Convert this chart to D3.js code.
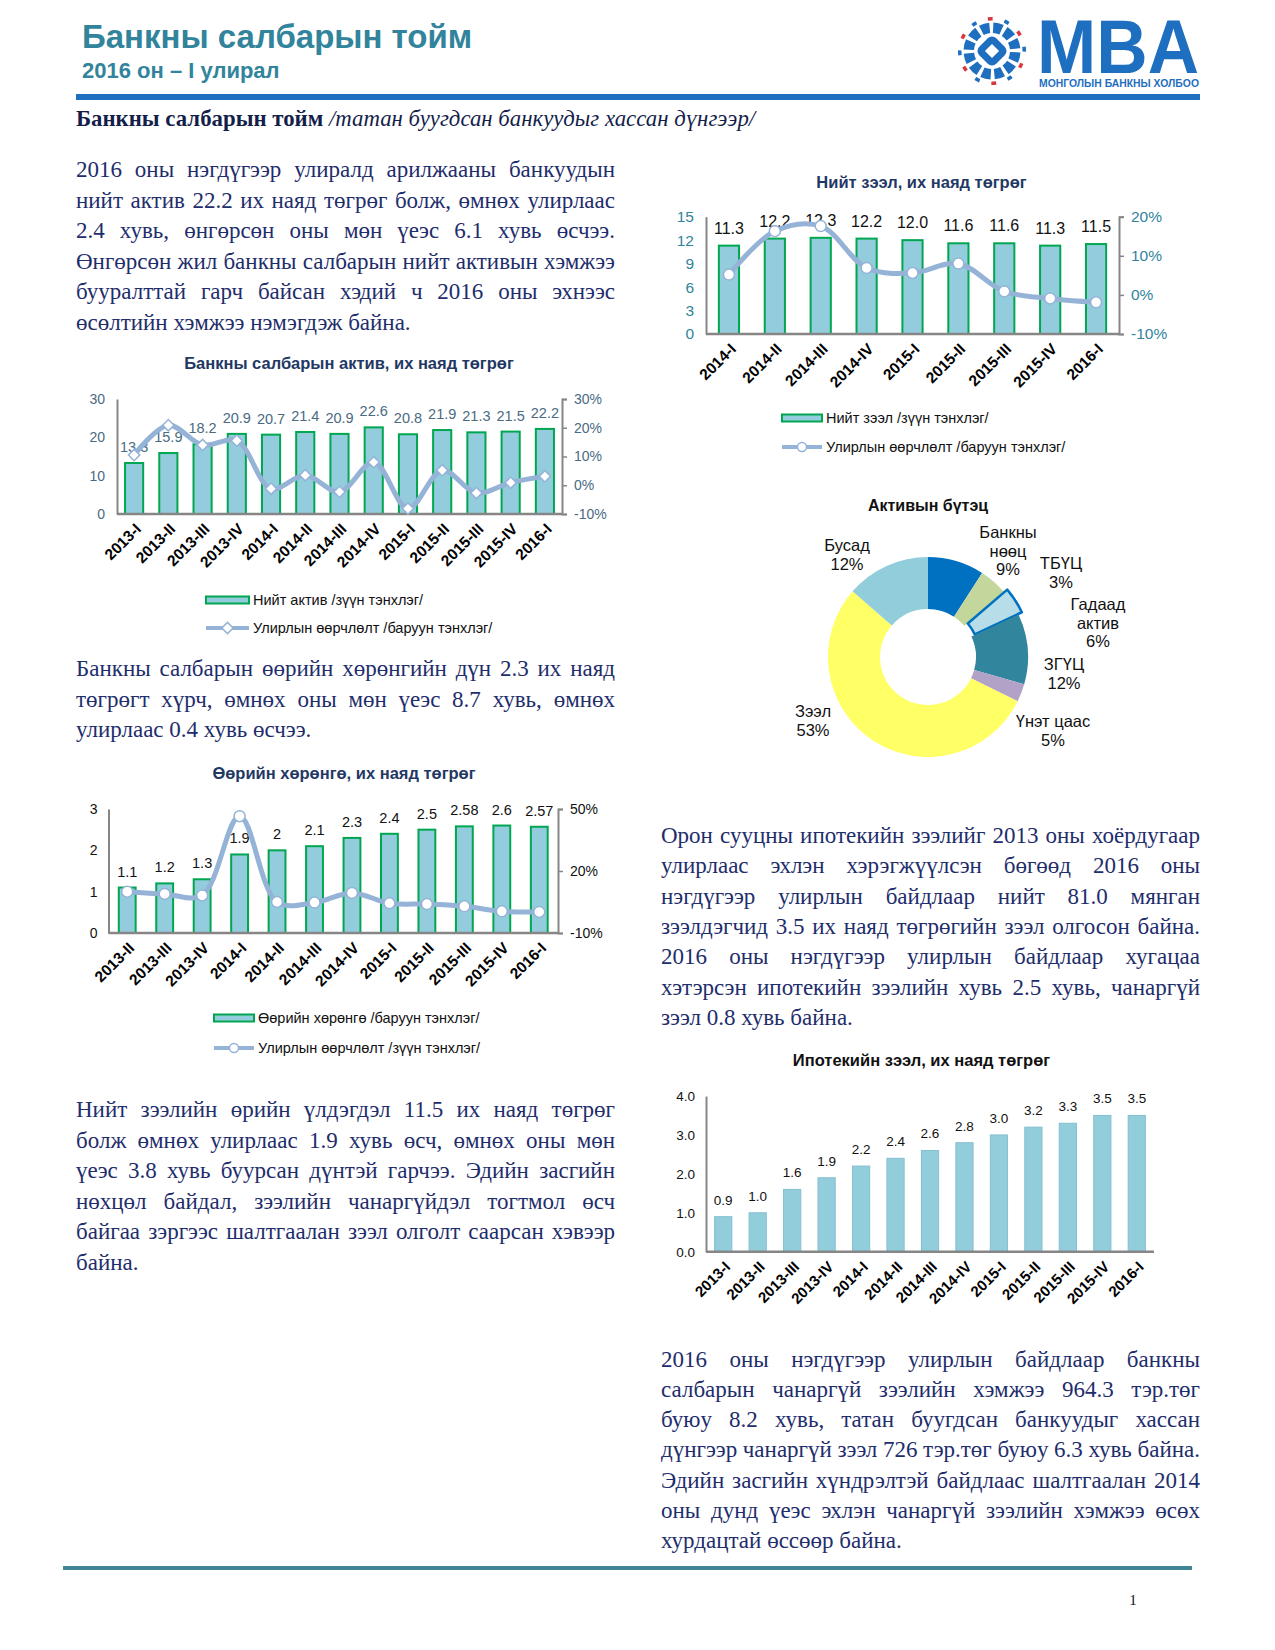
<!DOCTYPE html>
<html><head><meta charset="utf-8">
<script src="https://cdn.jsdelivr.net/npm/d3@7"></script>
<style>
body{margin:0;background:#fff;}
svg{display:block;}
.para{font-family:"Liberation Serif","Times New Roman",serif;font-size:23px;fill:#1e2d6b;}
.sans{font-family:"Liberation Sans",Arial,sans-serif;}
</style></head><body>
<svg id="pg" width="1275" height="1650"></svg>
<script>
// ---------- DATA ----------
const assetCats = ['2013-I','2013-II','2013-III','2013-IV','2014-I','2014-II','2014-III','2014-IV','2015-I','2015-II','2015-III','2015-IV','2016-I'];
const assetVals = [13.3,15.9,18.2,20.9,20.7,21.4,20.9,22.6,20.8,21.9,21.3,21.5,22.2];
const assetChg  = [10.5,20.9,14.0,15.5,-1.2,3.5,-2.3,8.0,-8.1,5.2,-2.7,0.9,3.1];
const assetLTicks = [0,10,20,30];
const assetRTicks = [-10,0,10,20,30];

const equityCats = ['2013-II','2013-III','2013-IV','2014-I','2014-II','2014-III','2014-IV','2015-I','2015-II','2015-III','2015-IV','2016-I'];
const equityVals = [1.1,1.2,1.3,1.9,2,2.1,2.3,2.4,2.5,2.58,2.6,2.57];
const equityChg  = [10.0,8.9,8.2,46.5,5.0,4.7,9.4,4.4,4.0,2.9,0.5,0.2];
const equityLTicks = [0,1,2,3];
const equityRTicks = [-10,20,50];

const loanCats = ['2014-I','2014-II','2014-III','2014-IV','2015-I','2015-II','2015-III','2015-IV','2016-I'];
const loanVals = [11.3,12.2,12.3,12.2,12.0,11.6,11.6,11.3,11.5];
const loanChg  = [5.2,16.3,17.6,6.9,5.6,8.0,0.9,-0.9,-1.9];
const loanLTicks = [0,3,6,9,12,15];
const loanRTicks = [-10,0,10,20];

const mortCats = ['2013-I','2013-II','2013-III','2013-IV','2014-I','2014-II','2014-III','2014-IV','2015-I','2015-II','2015-III','2015-IV','2016-I'];
const mortVals = [0.9,1.0,1.6,1.9,2.2,2.4,2.6,2.8,3.0,3.2,3.3,3.5,3.5];
const mortTicks = [0,1,2,3,4];

const pieNames  = ['Банкны нөөц','ТБҮЦ','Гадаад актив','ЗГҮЦ','Үнэт цаас','Зээл','Бусад'];
const pieShares = [9.1,4.6,4.3,11.4,2.9,54.1,13.6];
const pieLabelLines = [['Банкны','нөөц','9%'],['ТБҮЦ','3%'],['Гадаад','актив','6%'],['ЗГҮЦ','12%'],['Үнэт цаас','5%'],['Зээл','53%'],['Бусад','12%']];
const pieColors = ['#0070C0','#C3D69B','#B7DEE8','#31859C','#B3A2C7','#FFFF66','#92CDDC'];

const para1 = ['2016 оны нэгдүгээр улиралд арилжааны банкуудын','нийт актив 22.2 их наяд төгрөг болж, өмнөх улирлаас','2.4 хувь, өнгөрсөн оны мөн үеэс 6.1 хувь өсчээ.','Өнгөрсөн жил банкны салбарын нийт активын хэмжээ','бууралттай гарч байсан хэдий ч 2016 оны эхнээс','өсөлтийн хэмжээ нэмэгдэж байна.'];
const para2 = ['Банкны салбарын өөрийн хөрөнгийн дүн 2.3 их наяд','төгрөгт хүрч, өмнөх оны мөн үеэс 8.7 хувь, өмнөх','улирлаас 0.4 хувь өсчээ.'];
const para3 = ['Нийт зээлийн өрийн үлдэгдэл 11.5 их наяд төгрөг','болж өмнөх улирлаас 1.9 хувь өсч, өмнөх оны мөн','үеэс 3.8 хувь буурсан дүнтэй гарчээ. Эдийн засгийн','нөхцөл байдал, зээлийн чанаргүйдэл тогтмол өсч','байгаа зэргээс шалтгаалан зээл олголт саарсан хэвээр','байна.'];
const para4 = ['Орон сууцны ипотекийн зээлийг 2013 оны хоёрдугаар','улирлаас эхлэн хэрэгжүүлсэн бөгөөд 2016 оны','нэгдүгээр улирлын байдлаар нийт 81.0 мянган','зээлдэгчид 3.5 их наяд төгрөгийн зээл олгосон байна.','2016 оны нэгдүгээр улирлын байдлаар хугацаа','хэтэрсэн ипотекийн зээлийн хувь 2.5 хувь, чанаргүй','зээл 0.8 хувь байна.'];
const para5 = ['2016 оны нэгдүгээр улирлын байдлаар банкны','салбарын  чанаргүй зээлийн хэмжээ 964.3 тэр.төг','буюу 8.2 хувь, татан буугдсан банкуудыг хассан','дүнгээр чанаргүй зээл 726 тэр.төг буюу 6.3 хувь байна.','Эдийн засгийн хүндрэлтэй байдлаас шалтгаалан 2014','оны дунд үеэс эхлэн чанаргүй зээлийн хэмжээ өсөх','хурдацтай өссөөр байна.'];

// ---------- PAGE ----------
const svg = d3.select('#pg');
const TEAL = '#31849B', NAVY = '#1F3864', LINE = '#95B3D7', AXIS = '#868686';

svg.append('text').attr('class','sans').attr('x',82).attr('y',48).style('font-size','33px').style('font-weight','bold').attr('fill',TEAL).text('Банкны салбарын тойм');
svg.append('text').attr('class','sans').attr('x',82).attr('y',78).style('font-size','22px').style('font-weight','bold').attr('fill',TEAL).text('2016 он – I улирал');
svg.append('rect').attr('x',76).attr('y',94).attr('width',1124).attr('height',6).attr('fill','#1F6FC0');

// logo
const logo = svg.append('g').attr('transform','translate(992,51)');
const segArc = d3.arc();
for (let i=0;i<12;i++){
  const a = i*Math.PI/6;
  logo.append('path').attr('d',segArc({innerRadius:18,outerRadius:28.5,startAngle:a+0.05,endAngle:a+Math.PI/6-0.1,cornerRadius:1.5})).attr('fill','#1F6FC0');
  logo.append('path').attr('d',segArc({innerRadius:30.5,outerRadius:34,startAngle:a+Math.PI/6-0.13,endAngle:a+Math.PI/6+0.02})).attr('fill', i%2? '#D9363E':'#1F6FC0');
}
logo.append('rect').attr('x',-12).attr('y',-12).attr('width',24).attr('height',24).attr('rx',6).attr('transform','rotate(45)').attr('fill','#1F6FC0');
logo.append('rect').attr('x',-5).attr('y',-5).attr('width',10).attr('height',10).attr('transform','rotate(45)').attr('fill','#fff');
svg.append('text').attr('class','sans').attr('x',1037).attr('y',73).style('font-size','76px').style('font-weight','bold').attr('fill','#1F6FC0').attr('textLength',162).attr('lengthAdjust','spacingAndGlyphs').text('MBA');
svg.append('text').attr('class','sans').attr('x',1039).attr('y',87).style('font-size','10px').style('font-weight','bold').attr('fill','#1F6FC0').attr('textLength',160).attr('lengthAdjust','spacingAndGlyphs').text('МОНГОЛЫН БАНКНЫ ХОЛБОО');

// section heading
const sh = svg.append('text').attr('class','para').attr('x',76).attr('y',126).style('fill','#141e4a').style('font-size','22.8px');
sh.append('tspan').style('font-weight','bold').text('Банкны салбарын тойм ');
sh.append('tspan').style('font-style','italic').text('/татан буугдсан банкуудыг хассан дүнгээр/');

// justified paragraph helper (word spacing justification, last line left)
function paragraph(lines, x, y0, w, lh){
  const minGap = 4;
  lines.forEach((ln,i)=>{
    const y = y0 + i*lh;
    const t = svg.append('text').attr('class','para').attr('y',y);
    if (i === lines.length-1){ t.attr('x',x).text(ln); return; }
    const words = ln.trim().split(/\s+/);
    const widths = words.map(wd=>{ const s = svg.append('text').attr('class','para').text(wd); const l = s.node().getComputedTextLength(); s.remove(); return l; });
    const sum = d3.sum(widths);
    let gap = (w - sum)/(words.length-1), sx = 1;
    if (gap < minGap){ gap = minGap; sx = w/(sum + minGap*(words.length-1)); }
    t.attr('transform',`translate(${x},0) scale(${sx},1)`);
    let cx = 0;
    words.forEach((wd,j)=>{ t.append('tspan').attr('x',cx).text(wd); cx += widths[j] + gap; });
  });
}
paragraph(para1, 76, 177, 539, 30.5);
paragraph(para2, 76, 676, 539, 30.5);
paragraph(para3, 76, 1117, 539, 30.5);
paragraph(para4, 661, 843, 539, 30.3);
paragraph(para5, 661, 1366.5, 539, 30.3);

// ---------- CHART HELPER ----------
function chart(o){
  const g = svg.append('g');
  const x = d3.scaleBand().domain(o.cats).range([o.x0,o.x1]).paddingInner(o.pad).paddingOuter(o.pad/2);
  const yL = d3.scaleLinear().domain(o.lDom).range([o.yB,o.yT]);
  const cx = c => x(c) + x.bandwidth()/2;
  g.append('text').attr('class','sans').attr('x',o.tx).attr('y',o.ty).attr('text-anchor','middle')
    .style('font-size',o.tfs+'px').style('font-weight','bold').attr('fill',o.tcol).text(o.title);
  // bars
  g.selectAll('rect.bar').data(o.vals).join('rect').attr('class','bar')
    .attr('x',(d,i)=>x(o.cats[i])).attr('y',d=>yL(d)).attr('width',x.bandwidth()).attr('height',d=>yL(0)-yL(d))
    .attr('fill',o.barFill).attr('stroke',o.barStroke).attr('stroke-width',o.barSW);
  // left axis
  const ax = g.append('g').attr('transform',`translate(${o.x0},0)`)
    .call(d3.axisLeft(yL).tickValues(o.lTicks).tickSize(0).tickPadding(o.lPad).tickFormat(o.lFmt));
  ax.select('.domain').attr('stroke',AXIS).attr('stroke-width',2);
  ax.selectAll('text').attr('class','sans').style('font-size',o.tickFs+'px').attr('fill',o.tickCol);
  // x axis line
  g.append('line').attr('x1',o.x0).attr('x2',o.x1).attr('y1',o.yB).attr('y2',o.yB).attr('stroke',AXIS).attr('stroke-width',2.5);
  // category labels
  g.selectAll('text.cat').data(o.cats).join('text').attr('class','cat sans')
    .attr('transform',c=>`translate(${cx(c)+o.catDx},${o.yB+o.catDy}) rotate(-45)`)
    .attr('text-anchor','end').style('font-size',o.catFs+'px').style('font-weight','bold').attr('fill','#000').text(c=>c);
  // data labels
  g.selectAll('text.dl').data(o.vals).join('text').attr('class','dl sans')
    .attr('x',(d,i)=>cx(o.cats[i])).attr('y',d=>yL(d)-o.dlOff).attr('text-anchor','middle')
    .style('font-size',o.dlFs+'px').attr('fill',o.dlCol).text(o.dlFmt);
  // right axis + line
  if (o.chg){
    const yR = d3.scaleLinear().domain(o.rDom).range([o.yB,o.yT]);
    const ar = g.append('g').attr('transform',`translate(${o.x1},0)`)
      .call(d3.axisRight(yR).tickValues(o.rTicks).tickSize(5).tickPadding(o.rPad).tickFormat(d=>d+'%'));
    ar.select('.domain').attr('stroke',AXIS).attr('stroke-width',2);
    ar.selectAll('line').attr('stroke',AXIS).attr('stroke-width',1.5);
    ar.selectAll('text').attr('class','sans').style('font-size',o.tickFs+'px').attr('fill',o.tickCol);
    const line = d3.line().x((d,i)=>cx(o.cats[i])).y(d=>yR(d)).curve(d3.curveCatmullRom.alpha(0.5));
    g.append('path').attr('d',line(o.chg)).attr('fill','none').attr('stroke',LINE).attr('stroke-width',5).attr('stroke-linejoin','round');
    o.chg.forEach((d,i)=>{
      if (o.marker==='diamond')
        g.append('rect').attr('x',-4).attr('y',-4).attr('width',8).attr('height',8)
          .attr('transform',`translate(${cx(o.cats[i])},${yR(d)}) rotate(45)`).attr('fill','#fff').attr('stroke',LINE).attr('stroke-width',1.5);
      else
        g.append('circle').attr('cx',cx(o.cats[i])).attr('cy',yR(d)).attr('r',5.5).attr('fill','#fff').attr('stroke',LINE).attr('stroke-width',1.5);
    });
  }
  // legend
  if (o.leg){
    const L = o.leg;
    g.append('rect').attr('x',L.x).attr('y',L.y1-3.5).attr('width',L.w).attr('height',7).attr('fill','#93CDDD').attr('stroke','#00A650').attr('stroke-width',2);
    g.append('text').attr('class','sans').attr('x',L.x+L.w+4).attr('y',L.y1+5).style('font-size','14.5px').attr('fill','#111').text(L.t1);
    g.append('line').attr('x1',L.x).attr('x2',L.x+L.w).attr('y1',L.y2).attr('y2',L.y2).attr('stroke',LINE).attr('stroke-width',4);
    if (o.marker==='diamond')
      g.append('rect').attr('x',-4).attr('y',-4).attr('width',8).attr('height',8).attr('transform',`translate(${L.x+L.w/2},${L.y2}) rotate(45)`).attr('fill','#fff').attr('stroke',LINE).attr('stroke-width',1.5);
    else
      g.append('circle').attr('cx',L.x+L.w/2).attr('cy',L.y2).attr('r',4.5).attr('fill','#fff').attr('stroke',LINE).attr('stroke-width',1.5);
    g.append('text').attr('class','sans').attr('x',L.x+L.w+4).attr('y',L.y2+5).style('font-size','14.5px').attr('fill','#111').text(L.t2);
  }
}

// Chart 1: assets
chart({cats:assetCats, vals:assetVals, chg:assetChg, x0:117, x1:562, pad:0.47, yB:514, yT:399,
  lDom:[0,30], lTicks:assetLTicks, lFmt:d=>d, lPad:12, rDom:[-10,30], rTicks:assetRTicks, rPad:7,
  title:'Банкны салбарын актив, их наяд төгрөг', tx:349, ty:369, tfs:16.5, tcol:NAVY,
  barFill:'#93CDDD', barStroke:'#00A650', barSW:2, tickFs:14, tickCol:'#4a6a82',
  dlFs:14.5, dlCol:'#4a6a82', dlOff:11, dlFmt:d=>d3.format('.1f')(d), catDx:8, catDy:16, catFs:15.5, marker:'diamond',
  leg:{x:206, w:43, y1:600, y2:628, t1:'Нийт актив /зүүн тэнхлэг/', t2:'Улирлын өөрчлөлт /баруун тэнхлэг/'}});

// Chart 2: equity
chart({cats:equityCats, vals:equityVals, chg:equityChg, x0:108.5, x1:558, pad:0.55, yB:933, yT:809,
  lDom:[0,3], lTicks:equityLTicks, lFmt:d=>d, lPad:11, rDom:[-10,50], rTicks:equityRTicks, rPad:7,
  title:'Өөрийн хөрөнгө, их наяд төгрөг', tx:344, ty:779, tfs:16.5, tcol:NAVY,
  barFill:'#93CDDD', barStroke:'#00A650', barSW:2, tickFs:14, tickCol:'#111',
  dlFs:14.5, dlCol:'#111', dlOff:11, dlFmt:d=>String(d), catDx:8, catDy:16, catFs:15.5, marker:'circle',
  leg:{x:214, w:40, y1:1018, y2:1048, t1:'Өөрийн хөрөнгө /баруун тэнхлэг/', t2:'Улирлын өөрчлөлт /зүүн тэнхлэг/'}});

// Chart 3: loans
chart({cats:loanCats, vals:loanVals, chg:loanChg, x0:706, x1:1119, pad:0.56, yB:334, yT:216.7,
  lDom:[0,15], lTicks:loanLTicks, lFmt:d=>d, lPad:12, rDom:[-10,20], rTicks:loanRTicks, rPad:7,
  title:'Нийт зээл, их наяд төгрөг', tx:921.5, ty:188, tfs:16.5, tcol:NAVY,
  barFill:'#93CDDD', barStroke:'#00A650', barSW:2, tickFs:15.5, tickCol:TEAL,
  dlFs:16, dlCol:'#111', dlOff:12, dlFmt:d=>d3.format('.1f')(d), catDx:8, catDy:16, catFs:15.5, marker:'circle',
  leg:{x:782, w:40, y1:418, y2:447, t1:'Нийт зээл /зүүн тэнхлэг/', t2:'Улирлын өөрчлөлт /баруун тэнхлэг/'}});

// Chart 4: mortgage
chart({cats:mortCats, vals:mortVals, x0:706, x1:1154, pad:0.5, yB:1251.7, yT:1096,
  lDom:[0,4], lTicks:mortTicks, lFmt:d3.format('.1f'), lPad:11,
  title:'Ипотекийн зээл, их наяд төгрөг', tx:921.5, ty:1066, tfs:16.5, tcol:'#111',
  barFill:'#92CDDC', barStroke:'#86BFD0', barSW:1, tickFs:13.5, tickCol:'#111',
  dlFs:13.5, dlCol:'#111', dlOff:12, dlFmt:d=>d3.format('.1f')(d), catDx:8, catDy:16, catFs:15});

// Donut
const pcx = 928, pcy = 657;
svg.append('text').attr('class','sans').attr('x',928).attr('y',511).attr('text-anchor','middle').style('font-size','16px').style('font-weight','bold').attr('fill','#111').text('Активын бүтэц');
const pie = d3.pie().sort(null).value(d=>d)(pieShares);
const arc = d3.arc().innerRadius(48).outerRadius(100);
const pg = svg.append('g').attr('transform',`translate(${pcx},${pcy})`);
pie.forEach((p,i)=>{
  const path = pg.append('path').attr('d',arc(p)).attr('fill',pieColors[i]);
  if (i===2){
    const m = (p.startAngle+p.endAngle)/2;
    path.attr('transform',`translate(${4*Math.sin(m)},${-4*Math.cos(m)})`).attr('stroke','#0070C0').attr('stroke-width',2.5).attr('stroke-linejoin','round');
  }
});
const pieLabelPos = [[1008,532],[1061,563],[1098,604],[1064,664],[1053,721],[813,711],[847,545]];
pieLabelLines.forEach((ls,i)=>{
  const t = svg.append('text').attr('class','sans').attr('text-anchor','middle').style('font-size','16.5px').attr('fill','#111');
  ls.forEach((s,j)=> t.append('tspan').attr('x',pieLabelPos[i][0]).attr('y',pieLabelPos[i][1]+6+j*18.5).text(s));
});

// footer
svg.append('rect').attr('x',63).attr('y',1566).attr('width',1129).attr('height',4).attr('fill','#428597');
svg.append('text').attr('class','para').attr('x',1133).attr('y',1605).attr('text-anchor','middle').style('font-size','15px').style('fill','#111').text('1');
</script></body></html>
